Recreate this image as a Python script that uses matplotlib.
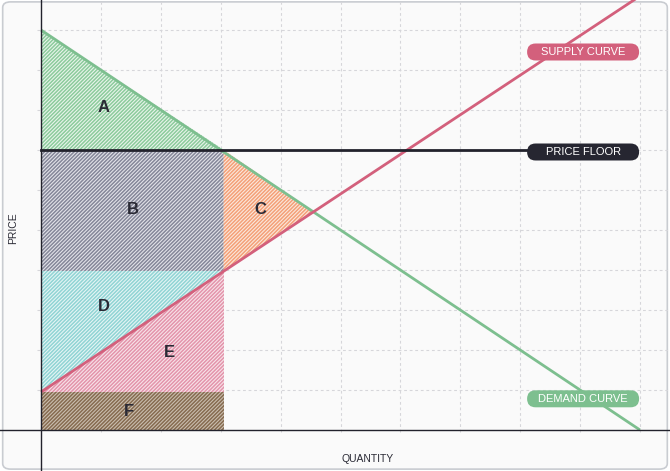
import matplotlib
matplotlib.use("Agg")
import matplotlib.pyplot as plt
from matplotlib.patches import FancyBboxPatch
from matplotlib.transforms import IdentityTransform

# economic model values (price floor example)
demand_x = [0, 10]
demand_y = [10, 0]
supply_intercept = 0.95
supply_slope = 0.99
supply_x = [0, 10.5]
supply_y = [supply_intercept, supply_intercept + supply_slope * 10.5]
floor_price = 7
floor_qty = 3.05
supply_at_floor_qty = supply_intercept + supply_slope * floor_qty
eq_x = (10 - supply_intercept) / (1 + supply_slope)
eq_y = 10 - eq_x

grid_x = [1, 2, 3, 4, 5, 6, 7, 8, 9, 10]
grid_y = [1, 2, 3, 4, 5, 6, 7, 8, 9, 10]

s = supply_at_floor_qty
# shaded regions: name -> polygon, label pos, hatch color, face color
regions = {
    "A": ([0, 0, floor_qty], [10, floor_price, floor_price], (1.05, 8.05), "#8ccb9c", "#eaf5ec"),
    "B": ([0, floor_qty, floor_qty, 0], [floor_price, floor_price, s, s], (1.53, 5.5), "#858799", "#e4e4ea"),
    "C": ([floor_qty, floor_qty, eq_x], [floor_price, s, eq_y], (3.66, 5.5), "#f4a078", "#fbe9de"),
    "D": ([0, 0, floor_qty], [supply_intercept, s, s], (1.05, 3.08), "#90d4d4", "#e6f5f5"),
    "E": ([0, floor_qty, floor_qty], [supply_intercept, supply_intercept, s], (2.15, 1.93), "#e394ab", "#f8e4ea"),
    "F": ([0, floor_qty, floor_qty, 0], [0, 0, supply_intercept, supply_intercept], (1.47, 0.45), "#866b50", "#cbbfb0"),
}

pill_x = 9.05
pills = [("SUPPLY CURVE", 9.45, "#d3607c"),
         ("PRICE FLOOR", 6.95, "#262631"),
         ("DEMAND CURVE", 0.78, "#7dbf8f")]

supply_color = "#d3607c"
demand_color = "#7dbf8f"
dark = "#22222c"

plt.rcParams['font.family'] = ['Liberation Sans', 'DejaVu Sans']
plt.rcParams['hatch.linewidth'] = 1.1
fig = plt.figure(figsize=(6.7, 4.71), dpi=100)
fig.patch.set_facecolor("white")
ax = fig.add_axes([0, 0, 1, 1])
ax.set_xlim(-41 / 59.9, (670 - 41) / 59.9)
ax.set_ylim(-41 / 40, 430 / 40)
ax.axis("off")

# figure background with rounded border
bg = FancyBboxPatch((0.004, 0.004), 0.992, 0.992, boxstyle="round,pad=0,rounding_size=0.012",
                    transform=fig.transFigure, facecolor="#fafafa", edgecolor="#c9ccd1",
                    linewidth=1.2, zorder=-5)
fig.patches.append(bg)

# grid
for gx in grid_x:
    ax.plot([gx, gx], [-0.06, 10.75], color="#d6d6da", lw=0.8, ls=(0, (2.5, 2.5)), zorder=1)
for gy in grid_y:
    ax.plot([-0.06, 10.5], [gy, gy], color="#d6d6da", lw=0.8, ls=(0, (2.5, 2.5)), zorder=1)

# hatched areas
for name, (px, py, lpos, hc, fc) in regions.items():
    ax.fill(px, py, facecolor=fc, edgecolor=hc, hatch="/////////", lw=0, zorder=2)
    ax.text(lpos[0], lpos[1], name, ha="center", va="center", fontsize=12,
            fontweight="bold", color="#2a2a35", zorder=6)

# curves
ax.plot(demand_x, demand_y, color=demand_color, lw=2, zorder=4, solid_capstyle="butt")
ax.plot(supply_x, supply_y, color=supply_color, lw=2, zorder=4, solid_capstyle="butt")
ax.plot([0, pill_x], [floor_price, floor_price], color=dark, lw=2, zorder=4)

# axes lines
ax.axhline(0, color=dark, lw=1, zorder=5)
ax.axvline(0, color=dark, lw=1, zorder=5)

ax.text(5.45, -0.72, "QUANTITY", ha="center", va="center", fontsize=7.5, color="#2a2a35")
ax.text(-0.47, 5.05, "PRICE", ha="center", va="center", fontsize=7.5, color="#2a2a35", rotation=90)

# pill labels, drawn in pixel space
fig.canvas.draw()
pw, ph = 112, 17
for label, py, col in pills:
    cx, cy = ax.transData.transform((pill_x, py))
    box = FancyBboxPatch((cx - pw / 2, cy - ph / 2), pw, ph,
                         boxstyle="round,pad=0,rounding_size=8.5",
                         transform=IdentityTransform(), facecolor=col, edgecolor="none", zorder=7)
    ax.add_artist(box)
    ax.text(pill_x, py, label, ha="center", va="center", fontsize=8, color="white", zorder=8)

fig.savefig("out.png", dpi=100)
